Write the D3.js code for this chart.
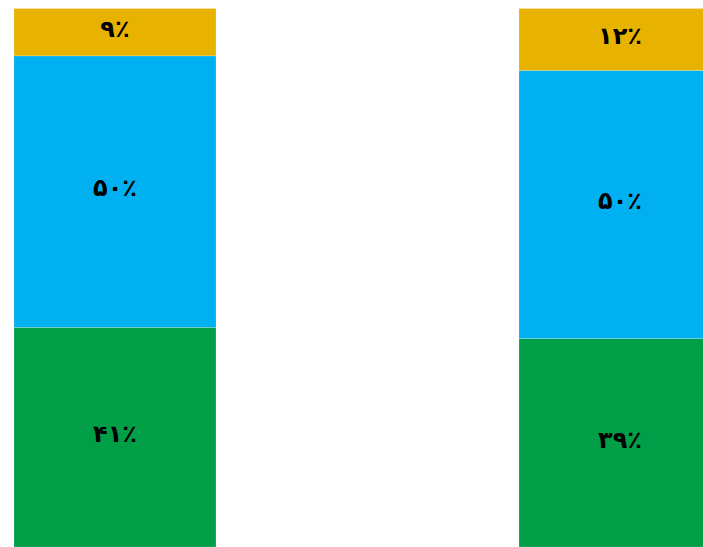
<!DOCTYPE html>
<html>
<head>
<meta charset="utf-8">
<script src="https://cdn.jsdelivr.net/npm/d3@7"></script>
<style>
  body { margin: 0; background: #fff; }
  .label { font-family: "DejaVu Sans", sans-serif; font-weight: bold; font-size: 24px; fill: #000; }
</style>
</head>
<body>
<div id="chart"></div>
<script>
var w = 703;
var h = 547;

// two stacked 100% bars
var groups = ["A", "B"];
var series = ["low", "mid", "high"];
var lowValues = [40.8, 38.7];
var midValues = [50.4, 49.8];
var highValues = [8.8, 11.5];
var labelsLow = ["۴۱٪", "۳۹٪"];
var labelsMid = ["۵۰٪", "۵۰٪"];
var labelsHigh = ["۹٪", "۱۲٪"];
var colors = ["#009E47", "#00B0F0", "#E8B200"];

var table = groups.map(function(g, i) {
  return { group: g, low: lowValues[i], mid: midValues[i], high: highValues[i] };
});
var labelTable = [labelsLow, labelsMid, labelsHigh];

var stack = d3.stack().keys(series);
var stacked = stack(table);

var xScale = d3.scaleBand()
  .domain(groups)
  .range([14, 721])
  .paddingInner(0.6)
  .paddingOuter(0);

var yScale = d3.scaleLinear()
  .domain([0, 100])
  .range([h, 8.5]);

var svg = d3.select("#chart")
  .append("svg")
  .attr("width", w)
  .attr("height", h);

var layers = svg.selectAll(".layer")
  .data(stacked)
  .enter().append("g")
  .attr("class", "layer")
  .attr("fill", function(d, i) { return colors[i]; });

layers.selectAll("rect")
  .data(function(d) { return d; })
  .enter().append("rect")
  .attr("x", function(d) { return xScale(d.data.group); })
  .attr("y", function(d) { return yScale(d[1]); })
  .attr("width", xScale.bandwidth())
  .attr("height", function(d) { return yScale(d[0]) - yScale(d[1]); })
  .attr("stroke", "#fff")
  .attr("stroke-opacity", 0.4)
  .attr("stroke-width", 0.5);

layers.each(function(layer, k) {
  d3.select(this).selectAll("text")
    .data(layer)
    .enter().append("text")
    .attr("class", "label")
    .attr("x", function(d) { return xScale(d.data.group) + xScale.bandwidth() / 2; })
    .attr("y", function(d) { return (yScale(d[0]) + yScale(d[1])) / 2; })
    .attr("dy", "0.2em")
    .attr("text-anchor", "middle")
    .attr("direction", "rtl")
    .text(function(d, i) { return labelTable[k][i]; });
});
</script>
</body>
</html>
